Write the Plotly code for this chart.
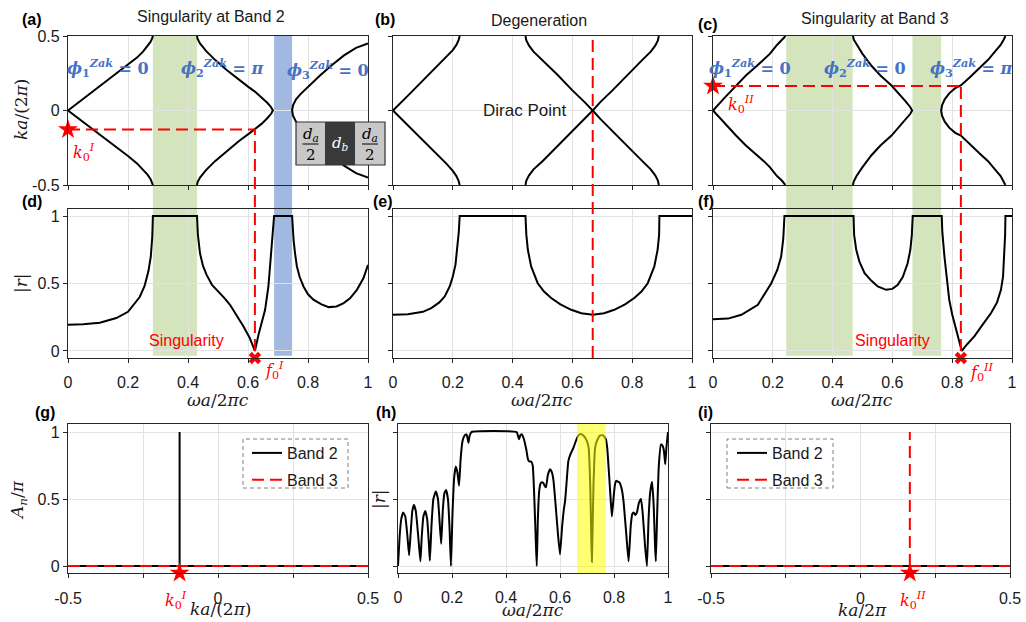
import plotly.graph_objects as go

W, H = 1026, 622

# ---------------- data ----------------
# (a) band structure, singularity at band 2 : omega a/2pi c vs |k a/2pi|
a_b1_w = [0, 0.05, 0.10, 0.15, 0.20, 0.23, 0.25, 0.265, 0.275, 0.28, 0.283]
a_b1_k = [0, 0.077, 0.153, 0.23, 0.305, 0.355, 0.395, 0.43, 0.46, 0.482, 0.5]
a_b2_w = [0.43, 0.432, 0.44, 0.46, 0.49, 0.53, 0.57, 0.60, 0.623, 0.645, 0.665, 0.677, 0.683]
a_b2_k = [0.5, 0.48, 0.45, 0.40, 0.34, 0.27, 0.205, 0.16, 0.127, 0.09, 0.05, 0.022, 0]
a_b3_w = [0.747, 0.75, 0.76, 0.775, 0.80, 0.84, 0.88, 0.92, 0.96, 1.0]
a_b3_k = [0, 0.035, 0.075, 0.11, 0.16, 0.235, 0.305, 0.37, 0.42, 0.45]

# (b) degeneration
b_b1_w = [0, 0.05, 0.10, 0.15, 0.18, 0.20, 0.212, 0.219, 0.223]
b_b1_k = [0, 0.1, 0.2, 0.3, 0.36, 0.405, 0.44, 0.47, 0.5]
b_b2_w = [0.443, 0.446, 0.455, 0.47, 0.50, 0.55, 0.60, 0.64, 0.668]
b_b2_k = [0.5, 0.47, 0.435, 0.395, 0.34, 0.24, 0.135, 0.058, 0]
b_b3_w = [0.668, 0.694, 0.734, 0.784, 0.834, 0.862, 0.877, 0.886, 0.889]
b_b3_k = [0, 0.058, 0.135, 0.24, 0.34, 0.395, 0.435, 0.47, 0.5]

# (c) singularity at band 3
c_b1_w = [0, 0.04, 0.077, 0.11, 0.147, 0.17, 0.19, 0.214, 0.23, 0.238, 0.242]
c_b1_k = [0, 0.088, 0.168, 0.235, 0.30, 0.34, 0.38, 0.44, 0.47, 0.49, 0.5]
c_b2_w = [0.468, 0.471, 0.48, 0.50, 0.53, 0.56, 0.597, 0.62, 0.645, 0.66, 0.666]
c_b2_k = [0.5, 0.475, 0.44, 0.38, 0.30, 0.235, 0.168, 0.115, 0.06, 0.022, 0]
c_b3_w = [0.763, 0.766, 0.775, 0.79, 0.81, 0.829, 0.86, 0.89, 0.92, 0.945, 0.962, 0.972, 0.978]
c_b3_k = [0, 0.035, 0.075, 0.115, 0.15, 0.168, 0.225, 0.285, 0.34, 0.40, 0.44, 0.475, 0.5]

# (d)-(f) reflection |r| vs omega a / 2 pi c
d_w = [0, 0.05, 0.106, 0.161, 0.2, 0.239, 0.255, 0.268, 0.276, 0.281, 0.283, 0.43, 0.433, 0.44,
       0.45, 0.462, 0.48, 0.496, 0.52, 0.54, 0.565, 0.585, 0.605, 0.623, 0.635, 0.648, 0.657,
       0.668, 0.676, 0.681, 0.685, 0.687, 0.747, 0.749, 0.752, 0.757, 0.763, 0.772, 0.785, 0.8,
       0.818, 0.845, 0.869, 0.895, 0.919, 0.94, 0.963, 0.985, 1.0]
d_r = [0.195, 0.198, 0.21, 0.244, 0.29, 0.40, 0.48, 0.59, 0.70, 0.85, 1.0, 1.0, 0.86, 0.724,
       0.63, 0.564, 0.49, 0.453, 0.395, 0.342, 0.255, 0.182, 0.1, 0.0, 0.12, 0.23, 0.305,
       0.478, 0.70, 0.85, 0.95, 1.0, 1.0, 0.9, 0.82, 0.72, 0.626, 0.55, 0.478, 0.42,
       0.38, 0.345, 0.325, 0.33, 0.355, 0.39, 0.453, 0.54, 0.638]
e_w = [0, 0.05, 0.1, 0.128, 0.155, 0.173, 0.19, 0.2, 0.209, 0.215, 0.22, 0.223, 0.443, 0.446,
       0.451, 0.462, 0.484, 0.505, 0.529, 0.56, 0.596, 0.63, 0.668, 0.706, 0.74, 0.776, 0.807,
       0.831, 0.852, 0.874, 0.885, 0.89, 0.891, 1.0]
e_r = [0.268, 0.273, 0.29, 0.318, 0.36, 0.404, 0.48, 0.552, 0.64, 0.749, 0.88, 1.0, 1.0, 0.86,
       0.75, 0.626, 0.502, 0.44, 0.392, 0.345, 0.305, 0.28, 0.268, 0.28, 0.305, 0.345, 0.392,
       0.44, 0.502, 0.626, 0.75, 0.86, 1.0, 1.0]
f_w = [0, 0.05, 0.095, 0.15, 0.195, 0.215, 0.228, 0.235, 0.239, 0.47, 0.472, 0.479, 0.49, 0.507,
       0.53, 0.551, 0.579, 0.6, 0.618, 0.635, 0.651, 0.66, 0.665, 0.668, 0.765, 0.767, 0.774,
       0.782, 0.79, 0.8, 0.813, 0.832, 0.85, 0.874, 0.9, 0.93, 0.95, 0.963, 0.97, 0.974, 0.977,
       0.978, 1.0]
f_r = [0.236, 0.24, 0.268, 0.342, 0.502, 0.6, 0.70, 0.83, 1.0, 1.0, 0.86, 0.75, 0.66, 0.576,
       0.52, 0.478, 0.453, 0.46, 0.49, 0.55, 0.65, 0.75, 0.86, 1.0, 1.0, 0.88, 0.70,
       0.52, 0.38, 0.27, 0.158, 0.0, 0.05, 0.108, 0.19, 0.281, 0.36, 0.453, 0.55, 0.70, 0.86,
       1.0, 1.0]

# (h) reflection of a finite structure
h_w = [0, 0.006, 0.012, 0.019, 0.027, 0.035, 0.041, 0.047, 0.053, 0.059, 0.066, 0.075, 0.083,
       0.088, 0.094, 0.101, 0.108, 0.114, 0.118, 0.124, 0.131, 0.14, 0.148, 0.155, 0.16, 0.166,
       0.172, 0.178, 0.185, 0.191, 0.196, 0.202, 0.208, 0.214, 0.22, 0.226, 0.232, 0.239, 0.247,
       0.254, 0.258, 0.261, 0.265, 0.272, 0.439, 0.444, 0.448, 0.453, 0.458, 0.466, 0.472, 0.476,
       0.481, 0.486, 0.493, 0.499, 0.505, 0.511, 0.514, 0.518, 0.523, 0.528, 0.533, 0.538, 0.543,
       0.548, 0.555, 0.563, 0.57, 0.576, 0.584, 0.592, 0.6, 0.608, 0.614, 0.619, 0.625, 0.631,
       0.64, 0.65, 0.66, 0.668, 0.678, 0.688, 0.698, 0.706, 0.712, 0.716, 0.718, 0.72, 0.724,
       0.73, 0.738, 0.749, 0.76, 0.77, 0.775, 0.78, 0.786, 0.792, 0.798, 0.803, 0.808, 0.814,
       0.82, 0.828, 0.835, 0.845, 0.854, 0.862, 0.868, 0.873, 0.879, 0.885, 0.892, 0.9, 0.906,
       0.915, 0.922, 0.928, 0.934, 0.941, 0.947, 0.952, 0.955, 0.96, 0.966, 0.974, 0.979, 0.984,
       0.988, 0.99, 0.994, 1.0]
h_r = [0.0, 0.22, 0.35, 0.40, 0.37, 0.22, 0.08, 0.25, 0.41, 0.455, 0.41, 0.22, 0.035,
       0.22, 0.37, 0.41, 0.35, 0.18, 0.04, 0.30, 0.50, 0.557, 0.50, 0.30, 0.166, 0.42,
       0.545, 0.567, 0.50, 0.28, 0.0, 0.40, 0.66, 0.743, 0.70, 0.60, 0.80, 0.933, 0.975,
       0.983, 0.95, 0.92, 0.97, 1.0, 1.0, 0.975, 0.946, 0.975, 0.983, 0.95, 0.90, 0.86,
       0.80, 0.78, 0.78, 0.75, 0.50, 0.15, 0.0, 0.35, 0.56, 0.616, 0.625, 0.62, 0.60,
       0.587, 0.68, 0.723, 0.70, 0.636, 0.45, 0.25, 0.087, 0.30, 0.42, 0.488, 0.64, 0.785,
       0.84, 0.884, 0.94, 0.975, 0.985, 0.97, 0.94, 0.884, 0.60, 0.20, 0.03, 0.20, 0.60,
       0.884, 0.94, 0.975, 0.975, 0.946, 0.88, 0.735, 0.55, 0.369, 0.50, 0.60, 0.636, 0.63,
       0.624, 0.58, 0.488, 0.25, 0.035, 0.30, 0.39, 0.40, 0.38, 0.40, 0.47, 0.50, 0.40,
       0.15, 0.0, 0.35, 0.55, 0.629, 0.45, 0.15, 0.035, 0.40, 0.75, 0.908, 0.90, 0.871,
       0.80, 0.76, 0.88, 1.0]

# (g), (i) A_n / pi vs k a / 2 pi
g_k2 = [-0.5, 0.5, None, -0.128, -0.128]
g_A2 = [0, 0, None, 0, 1]
g_k3 = [-0.5, 0.5]
g_A3 = [0, 0]
i_k2 = [-0.5, 0.5]
i_A2 = [0, 0]
i_k3 = [-0.5, 0.5, None, 0.165, 0.165]
i_A3 = [0, 0, None, 0, 1]

# special points
k0_I, f0_I = -0.128, 0.623
k0_II, f0_II = 0.165, 0.829
f_dirac = 0.668

# shaded gaps
gaps_ad = [(0.283, 0.43, 'green'), (0.687, 0.747, 'blue')]
gaps_cf = [(0.245, 0.467, 'green'), (0.667, 0.763, 'green')]
gap_h = (0.663, 0.770)

# ---------------- layout geometry ----------------
BOX = {  # left, right, top, bottom in px
    'a': (68, 368, 36, 185), 'b': (393, 692, 36, 185), 'c': (713, 1012, 36, 185),
    'd': (68, 368, 209, 358), 'e': (393, 692, 209, 358), 'f': (713, 1012, 209, 358),
    'g': (68, 368, 424, 573), 'h': (398, 668, 424, 573), 'i': (711, 1010, 424, 573),
}
RNG = {
    'a': ([0, 1], [-0.5, 0.5]), 'b': ([0, 1], [-0.5, 0.5]), 'c': ([0, 1], [-0.5, 0.5]),
    'd': ([0, 1], [-0.052, 1.052]), 'e': ([0, 1], [-0.052, 1.052]), 'f': ([0, 1], [-0.052, 1.052]),
    'g': ([-0.5, 0.5], [-0.052, 1.06]), 'h': ([0, 1], [-0.052, 1.06]), 'i': ([-0.5, 0.5], [-0.052, 1.06]),
}
PANELS = 'abcdefghi'
AXID = {p: (('x' + (str(n + 1) if n else '')), ('y' + (str(n + 1) if n else ''))) for n, p in enumerate(PANELS)}


def to_paper(p, xv, yv):
    l, r, t, b = BOX[p]
    (x0, x1), (y0, y1) = RNG[p]
    px = l + (xv - x0) / (x1 - x0) * (r - l)
    py = b - (yv - y0) / (y1 - y0) * (b - t)
    return px / W, 1 - py / H


GREEN = 'rgba(120,171,48,0.32)'
BLUE = 'rgba(68,114,196,0.5)'
RED = '#ff0000'
DASH = '12px,6px'
SANS = 'Liberation Sans, Arial, sans-serif'
SERIF = 'DejaVu Serif, serif'

fig = go.Figure()


def add(p, x, y, **kw):
    xa, ya = AXID[p]
    kw.setdefault('hoverinfo', 'skip')
    kw.setdefault('showlegend', False)
    fig.add_trace(go.Scatter(x=x, y=y, xaxis=xa, yaxis=ya, **kw))


def mirror(w, k):
    # join the +k and -k branches at the k = 0 end
    if k[0] == 0:
        xs = list(reversed(w)) + list(w)
        ys = [-v for v in reversed(k)] + list(k)
    else:
        xs = list(w) + list(reversed(w))
        ys = [-v for v in k] + list(reversed(k))
    return xs, ys


black = dict(color='black', width=2)
for p, bands in (('a', [(a_b1_w, a_b1_k), (a_b2_w, a_b2_k), (a_b3_w, a_b3_k)]),
                 ('b', [(b_b1_w, b_b1_k), (b_b2_w, b_b2_k), (b_b3_w, b_b3_k)]),
                 ('c', [(c_b1_w, c_b1_k), (c_b2_w, c_b2_k), (c_b3_w, c_b3_k)])):
    for w, k in bands:
        xs, ys = mirror(w, k)
        add(p, xs, ys, mode='lines', line=black)

add('d', d_w, d_r, mode='lines', line=black)
add('e', e_w, e_r, mode='lines', line=black)
add('f', f_w, f_r, mode='lines', line=black)
add('h', h_w, h_r, mode='lines', line=dict(color='black', width=2, shape='spline', smoothing=0.4))

# dashed guide lines inside panels
add('a', [0, f0_I], [k0_I, k0_I], mode='lines', line=dict(color=RED, width=2, dash=DASH))
add('c', [0, f0_II], [k0_II, k0_II], mode='lines', line=dict(color=RED, width=2, dash=DASH))

# (g) and (i)
add('g', g_k2, g_A2, mode='lines', line=black, name='Band 2', showlegend=True, legend='legend',
    legendgroup='g2')
add('g', g_k3, g_A3, mode='lines', line=dict(color=RED, width=2, dash=DASH), name='Band 3',
    showlegend=True, legend='legend', legendgroup='g3')
add('i', i_k2, i_A2, mode='lines', line=black, name='Band 2', showlegend=True, legend='legend2',
    legendgroup='i2')
add('i', i_k3, i_A3, mode='lines', line=dict(color=RED, width=2, dash=DASH), name='Band 3',
    showlegend=True, legend='legend2', legendgroup='i3')

# markers
star = dict(symbol='star', size=15, color=RED, line=dict(width=0))
xmk = dict(symbol='x', size=11, color=RED, line=dict(width=0))
add('a', [0], [k0_I], mode='markers', marker=star, cliponaxis=False)
add('c', [0], [k0_II], mode='markers', marker=star, cliponaxis=False)
add('d', [f0_I], [RNG['d'][1][0]], mode='markers', marker=xmk, cliponaxis=False)
add('f', [f0_II], [RNG['f'][1][0]], mode='markers', marker=xmk, cliponaxis=False)
add('g', [k0_I], [RNG['g'][1][0]], mode='markers', marker=star, cliponaxis=False)
add('i', [k0_II], [RNG['i'][1][0]], mode='markers', marker=star, cliponaxis=False)

# ---------------- axes ----------------
layout = dict(width=W, height=H, margin=dict(l=0, r=0, t=0, b=0, autoexpand=False),
              paper_bgcolor='white', plot_bgcolor='rgba(0,0,0,0)',
              font=dict(family=SANS, size=16, color='#1a1a1a'))
common = dict(showline=True, linecolor='#262626', linewidth=1.3, mirror=True, ticks='outside',
              ticklen=4, tickcolor='#262626', tickwidth=1, showgrid=True, gridcolor='#e2e2e2',
              gridwidth=1, zeroline=False, fixedrange=True, automargin=False,
              tickfont=dict(family=SANS, size=16, color='#1a1a1a'))
w_ticks = [0, 0.2, 0.4, 0.6, 0.8, 1]
w_text = ['0', '0.2', '0.4', '0.6', '0.8', '1']
k_ticks = [-0.5, -0.25, 0, 0.25, 0.5]
k_text = ['-0.5', '', '0', '', '0.5']
for n, p in enumerate(PANELS):
    l, r, t, b = BOX[p]
    xa, ya = AXID[p]
    xkey = 'xaxis' + xa[1:]
    ykey = 'yaxis' + ya[1:]
    xr, yr = RNG[p]
    xd = dict(common, domain=[l / W, r / W], range=xr, anchor=ya)
    yd = dict(common, domain=[1 - b / H, 1 - t / H], range=yr, anchor=xa)
    if p in 'gi':
        xd.update(tickvals=k_ticks, ticktext=k_text, ticklabelstandoff=7)
    else:
        xd.update(tickvals=w_ticks, ticktext=w_text if p in 'defh' else [''] * 6,
                  ticklabelstandoff=6)
    if p in 'abc':
        yd.update(tickvals=[-0.5, 0, 0.5], ticktext=['-0.5', '0', '0.5'] if p == 'a' else [''] * 3)
    else:
        yd.update(tickvals=[0, 0.5, 1], ticktext=['0', '0.5', '1'] if p in 'dg' else [''] * 3)
    layout[xkey] = xd
    layout[ykey] = yd

layout['legend'] = dict(x=247 / W, y=1 - 436 / H, xanchor='left', yanchor='top',
                        bgcolor='rgba(0,0,0,0)', borderwidth=0, tracegroupgap=3,
                        font=dict(family=SANS, size=16, color='#1a1a1a'))
layout['legend2'] = dict(x=732 / W, y=1 - 436 / H, xanchor='left', yanchor='top',
                         bgcolor='rgba(0,0,0,0)', borderwidth=0, tracegroupgap=3,
                         font=dict(family=SANS, size=16, color='#1a1a1a'))

# ---------------- shapes ----------------
shapes = []


def vband(top_p, bot_p, x0, x1, color):
    xa0, ytop = to_paper(top_p, x0, RNG[top_p][1][1])
    xa1, _ = to_paper(top_p, x1, 0)
    _, ybot = to_paper(bot_p, x0, -0.035)
    shapes.append(dict(type='rect', xref='paper', yref='paper', x0=xa0, x1=xa1, y0=ybot, y1=ytop,
                       fillcolor=GREEN if color == 'green' else BLUE, line=dict(width=0),
                       layer='below'))


for x0, x1, c in gaps_ad:
    vband('a', 'd', x0, x1, c)
for x0, x1, c in gaps_cf:
    vband('c', 'f', x0, x1, c)


def vline(top_p, ytop, bot_p, ybot, xv):
    xp, yp1 = to_paper(top_p, xv, ytop)
    _, yp0 = to_paper(bot_p, xv, ybot)
    shapes.append(dict(type='line', xref='paper', yref='paper', x0=xp, x1=xp, y0=yp0, y1=yp1,
                       line=dict(color=RED, width=2, dash=DASH), layer='above'))


vline('a', k0_I, 'd', 0, f0_I)
vline('b', 0.5, 'e', RNG['e'][1][0], f_dirac)
vline('c', k0_II, 'f', 0, f0_II)

# yellow band in (h)
hx0, hy0 = to_paper('h', gap_h[0], RNG['h'][1][0])
hx1, hy1 = to_paper('h', gap_h[1], RNG['h'][1][1])
shapes.append(dict(type='rect', xref='paper', yref='paper', x0=hx0, x1=hx1, y0=hy0, y1=hy1,
                   fillcolor='rgba(255,255,0,0.55)', line=dict(width=0), layer='above'))

# dashed legend frames
for (lx0, lx1) in ((243, 348), (727, 833)):
    shapes.append(dict(type='rect', xref='paper', yref='paper', x0=lx0 / W, x1=lx1 / W,
                       y0=1 - 488 / H, y1=1 - 439 / H, line=dict(color='#808080', width=1, dash='4px,3px'),
                       fillcolor='rgba(0,0,0,0)', layer='above'))

# unit-cell inset in (a)
cells = [(296, 325, '#c8c8c8'), (325, 355, '#3a3a3a'), (355, 385, '#c8c8c8')]
for cx0, cx1, col in cells:
    shapes.append(dict(type='rect', xref='paper', yref='paper', x0=cx0 / W, x1=cx1 / W,
                       y0=1 - 165 / H, y1=1 - 122 / H, fillcolor=col, line=dict(width=0), layer='above'))
shapes.append(dict(type='rect', xref='paper', yref='paper', x0=296 / W, x1=385 / W,
                   y0=1 - 165 / H, y1=1 - 122 / H, line=dict(color='#333333', width=1.2),
                   fillcolor='rgba(0,0,0,0)', layer='above'))
for cxm in (310.5, 370):
    shapes.append(dict(type='line', xref='paper', yref='paper', x0=(cxm - 8) / W, x1=(cxm + 8) / W,
                       y0=1 - 144 / H, y1=1 - 144 / H, line=dict(color='#222222', width=1.2),
                       layer='above'))
layout['shapes'] = shapes

# ---------------- annotations ----------------
anns = []


def ann(text, px, py, size=16, color='#1a1a1a', family=SANS, angle=0, xanchor='center'):
    anns.append(dict(text=text, x=px / W, y=1 - py / H, xref='paper', yref='paper', showarrow=False,
                     xanchor=xanchor, yanchor='middle', textangle=angle,
                     font=dict(size=size, color=color, family=family)))


# panel letters
for lab, px, py in (('(a)', 32, 19), ('(b)', 385, 19), ('(c)', 708, 24), ('(d)', 32, 201),
                    ('(e)', 383, 201), ('(f)', 706, 201), ('(g)', 45, 412), ('(h)', 386, 412),
                    ('(i)', 705, 412)):
    ann('<b>' + lab + '</b>', px, py, size=16, color='black')

# titles
ann('Singularity at Band 2', 211, 17)
ann('Degeneration', 539, 20)
ann('Singularity at Band 3', 875, 18)
ann('Dirac Point', 524, 110, size=17)

# axis titles
ann('<i>ka</i>/(2<i>π</i>)', 21, 110, size=17, family=SERIF, angle=-90)
ann('|<i>r</i>|', 21, 283, size=17, family=SERIF, angle=-90)
ann('<i>A<sub>n</sub></i>/<i>π</i>', 18, 500, size=17, family=SERIF, angle=-90)
ann('|<i>r</i>|', 379, 499, size=17, family=SERIF, angle=-90)
for cx in (218, 542, 862):
    ann('<i>ωa</i>/2<i>πc</i>', cx, 400, size=17, family=SERIF)
ann('<i>ka</i>/(2<i>π</i>)', 220, 609, size=17, family=SERIF)
ann('<i>ωa</i>/2<i>πc</i>', 533, 610, size=17, family=SERIF)
ann('<i>ka</i>/2<i>π</i>', 862, 610, size=17, family=SERIF)

# Zak phases
BL = '#4472C4'
for txt, px, py in (('<b><i>ϕ</i><sub>1</sub><sup><i>Zak</i></sup> = 0</b>', 108, 68),
                    ('<b><i>ϕ</i><sub>2</sub><sup><i>Zak</i></sup> = <i>π</i></b>', 222, 68),
                    ('<b><i>ϕ</i><sub>3</sub><sup><i>Zak</i></sup> = 0</b>', 328, 70),
                    ('<b><i>ϕ</i><sub>1</sub><sup><i>Zak</i></sup> = 0</b>', 750, 68),
                    ('<b><i>ϕ</i><sub>2</sub><sup><i>Zak</i></sup> = 0</b>', 865, 68),
                    ('<b><i>ϕ</i><sub>3</sub><sup><i>Zak</i></sup> = <i>π</i></b>', 971, 68)):
    ann(txt, px, py, size=16, color=BL, family=SERIF)

# red labels
ann('<i>k</i><sub>0</sub><sup><i>I</i></sup>', 84, 152, size=16, color=RED, family=SERIF)
ann('<i>k</i><sub>0</sub><sup><i>II</i></sup>', 741, 104, size=16, color=RED, family=SERIF)
ann('<i>f</i><sub>0</sub><sup><i>I</i></sup>', 274, 370, size=16, color=RED, family=SERIF)
ann('<i>f</i><sub>0</sub><sup><i>II</i></sup>', 981, 372, size=16, color=RED, family=SERIF)
ann('<i>k</i><sub>0</sub><sup><i>I</i></sup>', 176, 600, size=16, color=RED, family=SERIF)
ann('<i>k</i><sub>0</sub><sup><i>II</i></sup>', 913, 600, size=16, color=RED, family=SERIF)
ann('Singularity', 186, 340, size=16, color=RED)
ann('Singularity', 892, 340, size=16, color=RED)

# inset text
for cxm in (310.5, 370):
    ann('<i>d<sub>a</sub></i>', cxm, 135, size=15, family=SERIF, color='black')
    ann('2', cxm, 155, size=15, family=SERIF, color='black')
ann('<i>d<sub>b</sub></i>', 340, 143, size=15, family=SERIF, color='white')

layout['annotations'] = anns
fig.update_layout(**layout)
fig.write_html('out.html', config={'displayModeBar': False},
               post_script="document.body.style.margin='0';document.body.style.overflow='hidden';")
